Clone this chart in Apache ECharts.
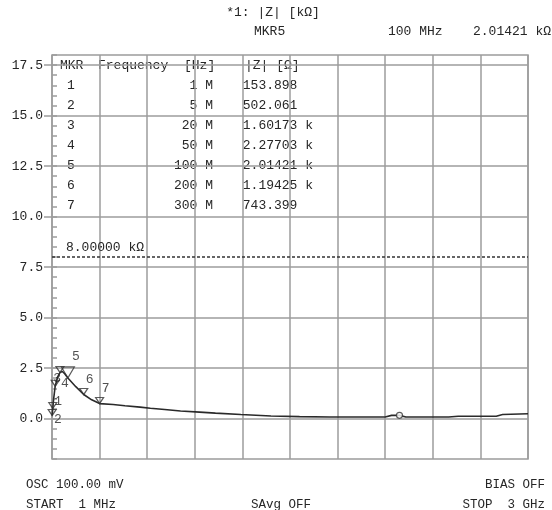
<!DOCTYPE html>
<html><head><meta charset="utf-8">
<script src="https://cdn.jsdelivr.net/npm/echarts@6/dist/echarts.min.js"></script>
<style>html,body{margin:0;padding:0;background:#fff}#c{width:552px;height:510px}</style>
</head><body><div id="c"></div>
<script>
// ---- data ----
const markerNo = [1, 2, 3, 4, 5, 6, 7];
const markerFreqMHz = [1, 5, 20, 50, 100, 200, 300];
const markerZOhm = [153.898, 502.061, 1601.73, 2277.03, 2014.21, 1194.25, 743.399];
const markerFreqText = ['1 M', '5 M', '20 M', '50 M', '100 M', '200 M', '300 M'];
const markerZText = ['153.898  ', '502.061  ', '1.60173 k', '2.27703 k', '2.01421 k', '1.19425 k', '743.399  '];
const curveFreqMHz = [1, 5, 10, 20, 35, 50, 65, 80, 100, 150, 200, 250, 300, 385, 460, 555, 620, 710, 810, 930, 1030, 1190, 1380, 1560, 1750, 1940, 2100, 2140, 2190, 2230, 2500, 2560, 2800, 2840, 3000];
const curveZk = [0.154, 0.502, 0.95, 1.602, 2.05, 2.277, 2.33, 2.22, 2.014, 1.58, 1.194, 0.93, 0.743, 0.70, 0.64, 0.57, 0.51, 0.45, 0.38, 0.32, 0.27, 0.20, 0.13, 0.10, 0.08, 0.08, 0.08, 0.16, 0.16, 0.08, 0.08, 0.12, 0.12, 0.20, 0.24];
const extraMarkerFreqMHz = [2190];
const extraMarkerZk = [0.16];
const refLineZk = 8.0;
const refLineText = '8.00000 k\u03A9';
const yTickValues = [0, 2.5, 5, 7.5, 10, 12.5, 15, 17.5];
const activeMarker = 5;
const headerTitle = '*1: |Z| [k\u03A9]';
const footerTexts = { osc: 'OSC 100.00 mV', start: 'START  1 MHz', savg: 'SAvg OFF', bias: 'BIAS OFF', stop: 'STOP  3 GHz' };

// ---- styles ----
const FONT = '"Liberation Mono", "DejaVu Sans Mono", monospace';
const TXT = '#262626';
const GRID = '#9c9c9c';
const labelOffsets = [[6, -14], [5, 11], [2, -8], [5, 11], [8, -21], [6, -15], [6, -15]];

const chart = echarts.init(document.getElementById('c'), null, { renderer: 'canvas' });
const activeIdx = markerNo.indexOf(activeMarker);

function txt(x, y, s, align, size) {
  return { type: 'text', x: x, y: y, style: { text: s, fill: TXT, font: (size || 13) + 'px ' + FONT, align: align || 'left', verticalAlign: 'middle' } };
}
const g = [];
g.push(txt(273, 13, headerTitle, 'center'));
g.push(txt(254, 32, 'MKR' + activeMarker, 'left'));
g.push(txt(388, 32, markerFreqText[activeIdx].replace(' M', ' MHz'), 'left'));
g.push(txt(551, 32, (markerZOhm[activeIdx] / 1000).toFixed(5) + ' k\u03A9', 'right'));
// marker table
g.push(txt(60, 66, 'MKR'));
g.push(txt(98, 66, 'Frequency'));
g.push(txt(184, 66, '[Hz]'));
g.push(txt(245, 66, '|Z| [\u03A9]'));
markerNo.forEach(function (n, i) {
  const y = 86 + i * 20;
  g.push(txt(67, y, String(n)));
  g.push(txt(213, y, markerFreqText[i], 'right'));
  g.push(txt(313, y, markerZText[i], 'right'));
});
g.push(txt(26, 485, footerTexts.osc, 'left', 12.5));
g.push(txt(26, 505, footerTexts.start, 'left', 12.5));
g.push(txt(251, 505, footerTexts.savg, 'left', 12.5));
g.push(txt(545, 485, footerTexts.bias, 'right', 12.5));
g.push(txt(545, 505, footerTexts.stop, 'right', 12.5));

const option = {
  animation: false,
  backgroundColor: '#ffffff',
  grid: { left: 52, right: 24, top: 55, bottom: 51, show: true, borderColor: GRID, borderWidth: 1.5, backgroundColor: 'transparent' },
  xAxis: {
    type: 'value', min: 0, max: 3000, interval: 300,
    axisLine: { show: false }, axisTick: { show: false }, axisLabel: { show: false },
    splitLine: { show: true, lineStyle: { color: GRID, width: 1.5 } }
  },
  yAxis: [
    {
      type: 'value', min: -2, max: 18, interval: 0.5, position: 'left',
      axisLine: { show: false },
      axisTick: { show: true, inside: true, length: 5, lineStyle: { color: GRID, width: 1.5 } },
      axisLabel: { show: false }, splitLine: { show: false }
    },
    {
      type: 'value', min: -2, max: 18, position: 'left',
      axisLine: { show: false },
      axisTick: { show: true, inside: false, length: 8, customValues: yTickValues, lineStyle: { color: GRID, width: 1.5 } },
      axisLabel: { show: true, customValues: yTickValues, formatter: function (v) { return v.toFixed(1); }, margin: 9, color: TXT, fontFamily: FONT, fontSize: 13 },
      splitLine: { show: true, lineStyle: { color: GRID, width: 1.5 } }
    }
  ],
  graphic: g,
  series: [
    {
      type: 'line', yAxisIndex: 0, showSymbol: false, symbol: 'none',
      data: curveFreqMHz.map(function (f, i) { return [f, curveZk[i]]; }),
      lineStyle: { color: '#2a2a2a', width: 1.6 },
      z: 3,
      markLine: {
        silent: true, symbol: 'none', animation: false,
        lineStyle: { type: [3, 2], color: '#333', width: 1.5 },
        label: { show: true, position: 'insideStartTop', formatter: refLineText, color: TXT, fontFamily: FONT, fontSize: 13, distance: [14, 3] },
        data: [{ yAxis: refLineZk }]
      }
    },
    {
      type: 'scatter', yAxisIndex: 0, z: 4,
      data: markerFreqMHz.map(function (f, i) { return [f, markerZOhm[i] / 1000]; }),
      symbol: 'triangle', symbolRotate: 180,
      symbolSize: function (v, p) { return p.dataIndex === activeIdx ? [13, 11] : [8, 6]; },
      symbolOffset: [0, '-50%'],
      itemStyle: { color: 'rgba(255,255,255,0)', borderColor: '#333', borderWidth: 1.2 }
    },
    {
      type: 'scatter', yAxisIndex: 0, z: 5, symbolSize: 1,
      itemStyle: { color: 'rgba(0,0,0,0)' },
      data: markerFreqMHz.map(function (f, i) {
        return { value: [f, markerZOhm[i] / 1000], label: { offset: labelOffsets[i] } };
      }),
      label: { show: true, position: 'inside', formatter: function (p) { return String(markerNo[p.dataIndex]); }, color: TXT, fontFamily: FONT, fontSize: 13 }
    },
    {
      type: 'scatter', yAxisIndex: 0, z: 4, symbol: 'circle', symbolSize: 6,
      data: extraMarkerFreqMHz.map(function (f, i) { return [f, extraMarkerZk[i]]; }),
      itemStyle: { color: '#ffffff', borderColor: '#333', borderWidth: 1.2 }
    }
  ]
};
chart.setOption(option);
</script>
</body></html>
